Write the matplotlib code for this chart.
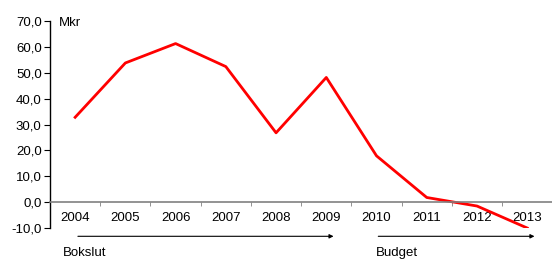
import matplotlib.pyplot as plt
import numpy as np

plt.rcParams['font.family'] = ['Liberation Sans', 'DejaVu Sans']
plt.rcParams['font.size'] = 9.5

years = ['2004', '2005', '2006', '2007', '2008', '2009', '2010', '2011', '2012', '2013']
mkr = [32.8, 53.8, 61.3, 52.4, 26.8, 48.2, 17.9, 1.8, -1.5, -10.0]
yticks = [-10, 0, 10, 20, 30, 40, 50, 60, 70]

fig = plt.figure(figsize=(5.52, 2.6), dpi=100)
ax = fig.add_axes([0.0906, 0.123, 0.91, 0.796])

x = np.arange(len(years))
ax.plot(x, mkr, color='#ff0000', linewidth=2)

ax.set_xlim(-0.5, len(years) - 0.5)
ax.set_ylim(-10, 70)
ax.set_yticks(yticks)
ax.set_yticklabels([f'{v:.1f}'.replace('.', ',') for v in yticks])

ax.spines['top'].set_visible(False)
ax.spines['right'].set_visible(False)
ax.spines['bottom'].set_position(('data', 0))
ax.spines['bottom'].set_color('#808080')
ax.spines['bottom'].set_linewidth(1.2)
ax.spines['left'].set_linewidth(1.0)

ax.set_xticks(x)
ax.set_xticklabels(years)
ax.set_xticks(np.arange(len(years) + 1) - 0.5, minor=True)
ax.tick_params(axis='x', which='major', length=0, pad=7)
ax.tick_params(axis='x', which='minor', length=3, direction='out', color='#808080')
ax.tick_params(axis='y', length=4, direction='out', pad=2)

ax.text(0.018, 0.99, 'Mkr', transform=ax.transAxes, va='center', ha='left')

trans = ax.get_xaxis_transform()
ax.annotate('', xy=(5.2, -0.04), xytext=(0.0, -0.04), xycoords=trans, textcoords=trans,
            arrowprops=dict(arrowstyle='-|>', color='black', lw=0.8, mutation_scale=6),
            annotation_clip=False)
ax.annotate('', xy=(9.2, -0.04), xytext=(5.98, -0.04), xycoords=trans, textcoords=trans,
            arrowprops=dict(arrowstyle='-|>', color='black', lw=0.8, mutation_scale=6),
            annotation_clip=False)
ax.text(-0.25, -0.12, 'Bokslut', transform=trans, ha='left', va='center', clip_on=False)
ax.text(5.98, -0.12, 'Budget', transform=trans, ha='left', va='center', clip_on=False)

fig.savefig('out.png', dpi=100)
